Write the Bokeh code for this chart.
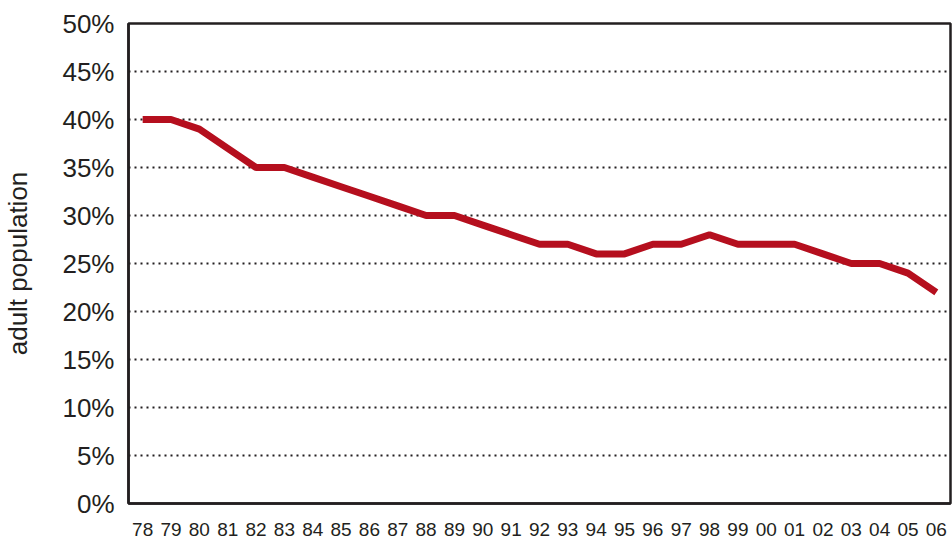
from bokeh.plotting import figure
from bokeh.models import FactorRange, Range1d, FixedTicker, PrintfTickFormatter
from bokeh.embed import file_html
from bokeh.resources import INLINE

years = ["78", "79", "80", "81", "82", "83", "84", "85", "86", "87", "88", "89",
         "90", "91", "92", "93", "94", "95", "96", "97", "98", "99", "00", "01",
         "02", "03", "04", "05", "06"]
share = [40, 40, 39, 37, 35, 35, 34, 33, 32, 31, 30, 30,
         29, 28, 27, 27, 26, 26, 27, 27, 28, 27, 27, 27,
         26, 25, 25, 24, 22]
y_ticks = [0, 5, 10, 15, 20, 25, 30, 35, 40, 45, 50]

TEXT = "#231F20"
RED = "#B50F1E"

p = figure(width=944, height=532, x_range=FactorRange(factors=years),
           y_range=Range1d(0, 50), output_backend="svg", toolbar_location=None,
           min_border_left=120, min_border_right=2, min_border_top=23,
           min_border_bottom=29)
p.frame_height = 480
p.frame_width = 822

p.line(years, share, line_color=RED, line_width=7)

p.outline_line_color = TEXT
p.outline_line_width = 2.5

p.xgrid.grid_line_color = None
p.ygrid.ticker = FixedTicker(ticks=y_ticks)
p.ygrid.grid_line_color = TEXT
p.ygrid.grid_line_width = 2
p.ygrid.grid_line_dash = "2 4"

p.yaxis.ticker = FixedTicker(ticks=y_ticks)
p.yaxis.formatter = PrintfTickFormatter(format="%d%%")
p.yaxis.axis_label = "adult population"
p.yaxis.axis_label_text_font = "Liberation Sans"
p.yaxis.axis_label_text_font_style = "normal"
p.yaxis.axis_label_text_font_size = "26px"
p.yaxis.axis_label_text_color = TEXT
p.yaxis.axis_label_standoff = 26

for ax in (p.xaxis[0], p.yaxis[0]):
    ax.axis_line_color = TEXT
    ax.axis_line_width = 2.5
    ax.major_tick_line_color = None
    ax.minor_tick_line_color = None
    ax.major_label_text_font = "Liberation Sans"
    ax.major_label_text_color = TEXT

p.yaxis.major_label_text_font_size = "26px"
p.yaxis.major_label_standoff = 8
p.xaxis.major_label_text_font_size = "19px"
p.xaxis.major_label_standoff = 13

open("out.html", "w").write(file_html(p, INLINE))
